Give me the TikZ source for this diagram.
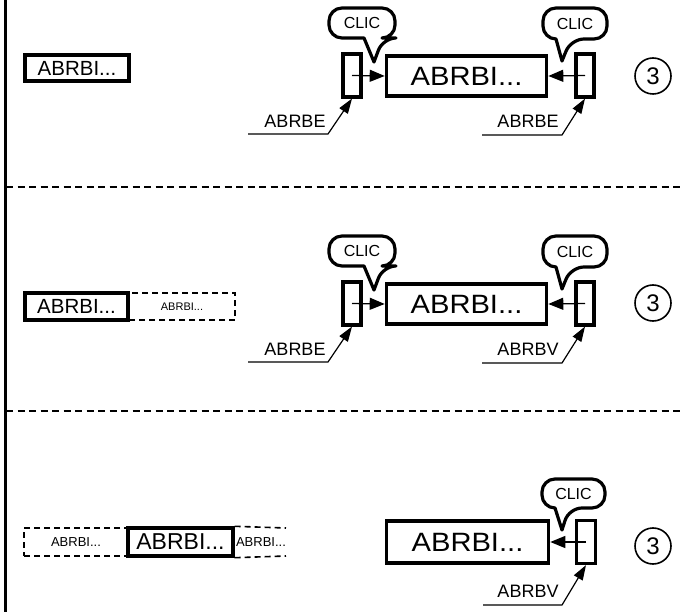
\documentclass[tikz,border=0pt]{standalone}
\usepackage{fontspec}
\setmainfont{Liberation Sans}
\newfontfamily\bigfont[FakeStretch=1.1]{Liberation Sans}
\usetikzlibrary{arrows.meta}
\tikzset{
  mainbox/.style={draw, line width=3.6pt, minimum width=160pt, minimum height=40pt, inner sep=0pt, font=\bigfont\fontsize{26.5}{26.5}\selectfont},
  handle/.style={draw, line width=3.2pt, minimum width=18pt, minimum height=43pt, inner sep=0pt},
  leftsolid/.style={draw, line width=3.4pt, inner sep=0pt, font=\fontsize{20.5}{20.5}\selectfont},
  dashbox/.style={draw, line width=1.6pt, dash pattern=on 6pt off 4pt, inner sep=0pt},
  dashln/.style={line width=1.6pt, dash pattern=on 6pt off 4pt},
  sep/.style={line width=1.3pt, dash pattern=on 7pt off 4.5pt},
  bubble/.style={line width=3.2pt, line join=round},
  clictext/.style={font=\fontsize{16}{16}\selectfont, inner sep=0pt},
  lbl/.style={font=\fontsize{18}{18}\selectfont, inner sep=0pt},
  arr/.style={line width=1.3pt, -{Triangle[length=15pt,width=12pt]}},
  lblarr/.style={line width=1.2pt, -{Triangle[length=15pt,width=10pt]}},
  num/.style={draw, circle, line width=1.6pt, minimum size=36pt, inner sep=0pt, font=\fontsize{24}{24}\selectfont},
}
% bubble: #1 x1, #2 x2, #3 ytop, #4 ybottom, #5 tail left, #6 tail right, #7 tip x, #8 tip y, #9 name
\newcommand\clicbubble[9]{%
  \coordinate (#9tip) at (#7,#8);
  \draw[bubble] (#9tip) -- (#5,#4) [rounded corners=13pt] -- (#1,#4) -- (#1,#3) -- (#2,#3) -- (#2,#4) -- (#6,#4) [sharp corners] -- cycle;
  \node[clictext] (#9) at ({(#1+#2)/2},{(#3+#4)/2}) {CLIC};
}
\begin{document}
\begin{tikzpicture}[x=1pt, y=-1pt]
\useasboundingbox (0,0) rectangle (683,612);
% left border line
\draw[line width=3pt] (5.5,0) -- (5.5,612);
% separators
\coordinate (s1a) at (6,187); \coordinate (s1b) at (683,187);
\coordinate (s2a) at (6,411); \coordinate (s2b) at (683,411);
\draw[sep] (s1a) -- (s1b);
\draw[sep] (s2a) -- (s2b);

% ===== Panel 1 =====
\node[leftsolid, minimum width=104pt, minimum height=26pt] (leftA) at (77,68) {ABRBI...};
\node[mainbox] (mainA) at (466.5,76) {ABRBI...};
\node[handle] (hA1) at (352,75.5) {};
\node[handle] (hA2) at (585,75.5) {};
\draw[arr] (hA1.center) -- (mainA.west);
\draw[arr] (hA2.center) -- (mainA.east);
\clicbubble{329}{395}{8}{38}{364}{383}{374}{62}{cA1}
\clicbubble{543}{607}{8}{39}{556}{571}{562}{61}{cA2}
\node[lbl] (lA1) at (295,121) {ABRBE};
\coordinate (uA1) at (248,134); \coordinate (kA1) at (328,134);
\draw[lblarr] (uA1) -- (kA1) -- (hA1.south);
\node[lbl] (lA2) at (528,121) {ABRBE};
\coordinate (uA2) at (482,135); \coordinate (kA2) at (562,135);
\draw[lblarr] (uA2) -- (kA2) -- (hA2.south);
\node[num] (nA) at (653,76) {3};

% ===== Panel 2 =====
\node[dashbox, minimum width=106pt, minimum height=27pt, font=\fontsize{11}{11}\selectfont] (dashB) at (182,306.5) {ABRBI...};
\node[leftsolid, minimum width=103pt, minimum height=27pt] (leftB) at (76.5,306.5) {ABRBI...};
\node[mainbox] (mainB) at (466.5,304) {ABRBI...};
\node[handle] (hB1) at (352,303.5) {};
\node[handle] (hB2) at (585,303.5) {};
\draw[arr] (hB1.center) -- (mainB.west);
\draw[arr] (hB2.center) -- (mainB.east);
\clicbubble{329}{395}{236}{266}{364}{383}{374}{290}{cB1}
\clicbubble{543}{607}{236}{267}{556}{571}{562}{289}{cB2}
\node[lbl] (lB1) at (295,349) {ABRBE};
\coordinate (uB1) at (248,362); \coordinate (kB1) at (328,362);
\draw[lblarr] (uB1) -- (kB1) -- (hB1.south);
\node[lbl] (lB2) at (528,349) {ABRBV};
\coordinate (uB2) at (482,363); \coordinate (kB2) at (562,363);
\draw[lblarr] (uB2) -- (kB2) -- (hB2.south);
\node[num] (nB) at (653,303) {3};

% ===== Panel 3 =====
\node[dashbox, minimum width=104pt, minimum height=28pt, font=\fontsize{13}{13}\selectfont] (dashC1) at (76,542) {ABRBI...};
\node[leftsolid, minimum width=105pt, minimum height=28pt, font=\fontsize{23}{23}\selectfont] (leftC) at (180.5,542) {ABRBI...};
\coordinate (eC1) at (286,528); \coordinate (eC2) at (286,556);
\draw[dashln] (leftC.north east) -- (eC1);
\draw[dashln] (leftC.south east) -- (eC2);
\node[font=\fontsize{13}{13}\selectfont, inner sep=0pt] (dashC2) at (261,542) {ABRBI...};
\node[mainbox, minimum width=162pt, minimum height=42pt] (mainC) at (467.5,542) {ABRBI...};
\node[handle, minimum width=19pt] (hC) at (586,542) {};
\draw[arr] (hC.center) -- (mainC.east);
\clicbubble{542}{605}{479}{508}{555}{569}{562}{530}{cC}
\node[lbl] (lC) at (528,591) {ABRBV};
\coordinate (uC) at (483,605); \coordinate (kC) at (562,605);
\draw[lblarr] (uC) -- (kC) -- (hC.south);
\node[num] (nC) at (653,546) {3};
\end{tikzpicture}
\end{document}
